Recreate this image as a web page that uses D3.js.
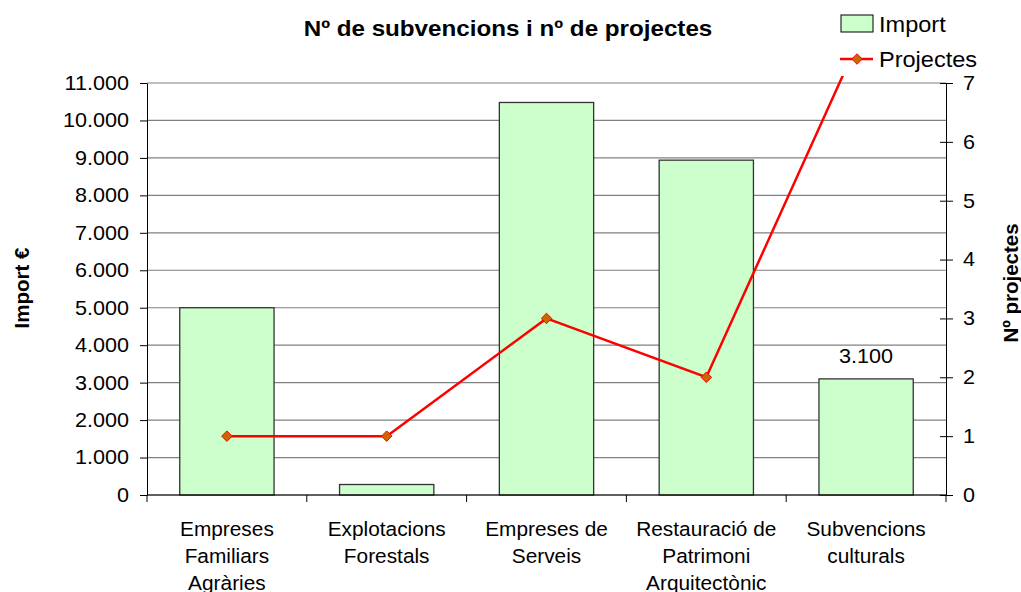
<!DOCTYPE html>
<html>
<head>
<meta charset="utf-8">
<script src="https://cdn.jsdelivr.net/npm/d3@7"></script>
<style>
  body { margin: 0; background: #fff; }
  svg text { font-family: "Liberation Sans", Arial, sans-serif; fill: #000; }
  .sx { transform-box: fill-box; transform: scaleX(1.08); }
  .sx-mid { transform-origin: center; }
  .sx-end { transform-origin: right center; }
  .sx-start { transform-origin: left center; }
</style>
</head>
<body>
<div class="graphic"></div>
<script>
var categories = [
  ["Empreses", "Familiars", "Agràries"],
  ["Explotacions", "Forestals"],
  ["Empreses de", "Serveis"],
  ["Restauració de", "Patrimoni", "Arquitectònic"],
  ["Subvencions", "culturals"]
];
var importValues = [5000, 280, 10480, 8940, 3100];
var projectValues = [1, 1, 3, 2, 8];
var leftTicks = [0, 1000, 2000, 3000, 4000, 5000, 6000, 7000, 8000, 9000, 10000, 11000];
var rightTicks = [0, 1, 2, 3, 4, 5, 6, 7];

var width = 1021, height = 592;
var margin = { top: 83, right: 75, bottom: 97, left: 147 };
var innerW = width - margin.left - margin.right;
var innerH = height - margin.top - margin.bottom;

var locale = d3.formatLocale({ decimal: ",", thousands: ".", grouping: [3], currency: ["", "€"] });
var fmt = locale.format(",d");

var svg = d3.select(".graphic")
  .append("svg")
  .attr("width", width)
  .attr("height", height);

var g = svg.append("g").attr("transform", `translate(${margin.left},${margin.top})`);

var x = d3.scaleBand().domain(d3.range(categories.length)).range([0, innerW]).padding(0);
var yL = d3.scaleLinear().domain([0, 11000]).range([innerH, 0]);
var yR = d3.scaleLinear().domain([0, 7]).range([innerH, 0]);

// gridlines
g.append("g")
  .selectAll("line")
  .data(leftTicks)
  .join("line")
  .attr("x1", 0)
  .attr("x2", innerW)
  .attr("y1", d => yL(d))
  .attr("y2", d => yL(d))
  .attr("stroke", "#808080")
  .attr("stroke-width", 1.2);

// bars
var barW = x.bandwidth() * 0.59;
g.append("g")
  .selectAll("rect")
  .data(importValues)
  .join("rect")
  .attr("x", (d, i) => x(i) + (x.bandwidth() - barW) / 2)
  .attr("y", d => yL(d))
  .attr("width", barW)
  .attr("height", d => innerH - yL(d))
  .attr("fill", "#ccffcc")
  .attr("stroke", "#333")
  .attr("stroke-width", 1.3);

// data label
g.append("text")
  .attr("class", "sx sx-mid")
  .attr("x", x(4) + x.bandwidth() / 2)
  .attr("y", yL(importValues[4]) - 16)
  .attr("text-anchor", "middle")
  .attr("font-size", 20)
  .text(fmt(importValues[4]));

// left axis
var axL = g.append("g")
  .call(d3.axisLeft(yL).tickValues(leftTicks).tickFormat(fmt).tickSizeInner(6).tickSizeOuter(0).tickPadding(12));
axL.selectAll("text").attr("font-size", 20).attr("class", "sx sx-end");
axL.selectAll(".tick line").attr("x2", 0).attr("x1", -7);

// right axis
var axR = g.append("g")
  .attr("transform", `translate(${innerW},0)`)
  .call(d3.axisRight(yR).tickValues(rightTicks).tickFormat(d3.format("d")).tickSizeInner(7).tickSizeOuter(0).tickPadding(10));
axR.selectAll("text").attr("font-size", 20).attr("class", "sx sx-start");
axR.selectAll(".tick line").attr("x1", -6).attr("x2", 7);

// bottom axis
var bottom = g.append("g").attr("transform", `translate(0,${innerH})`);
bottom.append("line").attr("x1", 0).attr("x2", innerW).attr("stroke", "#000");
bottom.selectAll(".tk")
  .data(d3.range(categories.length + 1))
  .join("line")
  .attr("class", "tk")
  .attr("x1", i => i < categories.length ? x(i) : innerW)
  .attr("x2", i => i < categories.length ? x(i) : innerW)
  .attr("y1", 0)
  .attr("y2", 7)
  .attr("stroke", "#000");

bottom.selectAll(".cat")
  .data(categories)
  .join("g")
  .attr("class", "cat")
  .attr("transform", (d, i) => `translate(${x(i) + x.bandwidth() / 2},0)`)
  .selectAll("text")
  .data(d => d)
  .join("text")
  .attr("class", "sx sx-mid")
  .attr("text-anchor", "middle")
  .attr("font-size", 19.3)
  .attr("x", 0)
  .attr("y", (d, j) => 41 + j * 27)
  .text(d => d);

// line series
svg.append("defs").append("clipPath").attr("id", "clipLine")
  .append("rect").attr("x", -10).attr("y", -7).attr("width", innerW + 20).attr("height", innerH + 20);

var line = d3.line()
  .x((d, i) => x(i) + x.bandwidth() / 2)
  .y(d => yR(d));

g.append("path")
  .datum(projectValues)
  .attr("d", line)
  .attr("fill", "none")
  .attr("stroke", "#ff0000")
  .attr("stroke-width", 2.5)
  .attr("clip-path", "url(#clipLine)");

var diamond = d3.symbol().type(d3.symbolDiamond2).size(70);
g.append("g")
  .selectAll("path")
  .data(projectValues.filter(d => d <= 7))
  .join("path")
  .attr("d", diamond)
  .attr("transform", (d, i) => `translate(${x(i) + x.bandwidth() / 2},${yR(d)})`)
  .attr("fill", "#cc6600")
  .attr("stroke", "#ff0000")
  .attr("stroke-width", 1);

// title
svg.append("text")
  .attr("class", "sx sx-mid")
  .attr("x", 508)
  .attr("y", 36)
  .attr("text-anchor", "middle")
  .attr("font-size", 22.4)
  .attr("font-weight", "bold")
  .text("Nº de subvencions i nº de projectes");

// axis titles
svg.append("text")
  .attr("transform", "translate(29,288) rotate(-90)")
  .attr("text-anchor", "middle")
  .attr("font-size", 20.5)
  .attr("font-weight", "bold")
  .text("Import €");

svg.append("text")
  .attr("transform", "translate(1018,283) rotate(-90)")
  .attr("text-anchor", "middle")
  .attr("font-size", 20.5)
  .attr("font-weight", "bold")
  .text("Nº projectes");

// legend
var lg = svg.append("g").attr("transform", "translate(841,15)");
lg.append("rect").attr("x", 0).attr("y", 0).attr("width", 32).attr("height", 17)
  .attr("fill", "#ccffcc").attr("stroke", "#000");
lg.append("text").attr("class", "sx sx-start").attr("x", 38).attr("y", 17).attr("font-size", 21.8).text("Import");
lg.append("line").attr("x1", -1).attr("x2", 32).attr("y1", 44).attr("y2", 44)
  .attr("stroke", "#ff0000").attr("stroke-width", 2.5);
lg.append("path").attr("d", diamond).attr("transform", "translate(16,44)")
  .attr("fill", "#cc6600").attr("stroke", "#ff0000");
lg.append("text").attr("class", "sx sx-start").attr("x", 38).attr("y", 52).attr("font-size", 21.8).text("Projectes");
</script>
</body>
</html>
